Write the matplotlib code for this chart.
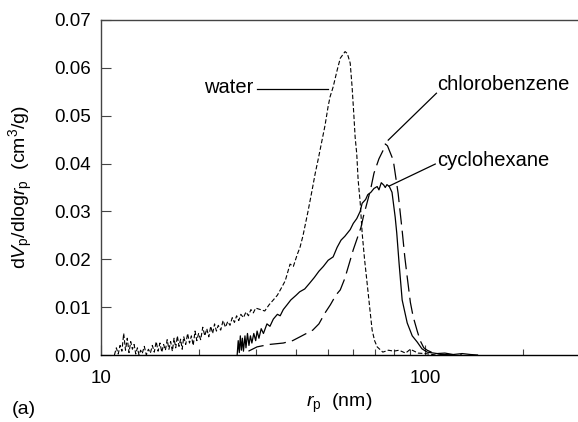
import numpy as np
import matplotlib
matplotlib.use("Agg")
import matplotlib.pyplot as plt

plt.rcParams['font.family'] = ['Liberation Sans', 'DejaVu Sans']
plt.rcParams['mathtext.fontset'] = 'custom'
plt.rcParams['mathtext.rm'] = 'Liberation Sans'
plt.rcParams['mathtext.it'] = 'Liberation Sans:italic'

# pore radius (nm) and dV/dlog r (cm3/g) for each solvent
r_water = [11.0, 11.15, 11.3, 11.45, 11.6, 11.75, 11.9, 12.05, 12.2, 12.35,
           12.5, 12.65, 12.8, 12.95, 13.1, 13.25, 13.4, 13.6, 13.8, 14.0,
           14.2, 14.4, 14.6, 14.8, 15.0, 15.2, 15.4, 15.6, 15.8, 16.0,
           16.2, 16.4, 16.6, 16.8, 17.0, 17.2, 17.4, 17.6, 17.8, 18.0,
           18.25, 18.5, 18.75, 19.0, 19.25, 19.5, 19.75, 20.0, 20.3, 20.6,
           20.9, 21.2, 21.5, 21.8, 22.1, 22.4, 22.7, 23.0, 23.4, 23.8,
           24.2, 24.6, 25.0, 25.4, 25.8, 26.2, 26.6, 27.0, 27.5, 28.0,
           28.5, 29.0, 29.5, 30.0, 31.0, 32.0, 33.0, 34.0, 35.0, 36.0,
           37.0, 38.3, 39.2, 40.3, 41.1, 42.0, 43.5, 44.8, 45.8, 46.8,
           48.1, 49.1, 50.2, 50.9, 52.0, 53.5, 54.7, 56.6, 57.5, 58.7,
           59.5, 60.2, 60.8, 61.5, 62.1, 63.0, 63.9, 65.0, 66.2, 67.4,
           68.6, 69.8, 71.1, 74.0, 77.0, 80.0, 83.0, 87.0, 90.0, 95.0,
           100.0, 108.0]
v_water = [0.0, 0.0015, 0.0002, 0.002, 0.0008, 0.0045, 0.001, 0.0035, 0.0005, 0.0028,
           0.0012, 0.0022, 0.0002, 0.0015, 0.0, 0.001, 0.0003, 0.0018, 0.0, 0.0012,
           0.0004, 0.002, 0.0006, 0.0028, 0.0008, 0.0025, 0.0006, 0.0022, 0.001, 0.0032,
           0.0012, 0.0028, 0.0008, 0.0035, 0.0015, 0.004, 0.0018, 0.0033, 0.0012, 0.0038,
           0.0022, 0.0045, 0.0025, 0.004, 0.002, 0.005, 0.003, 0.0045, 0.0032, 0.0058,
           0.004, 0.0055, 0.0038, 0.006, 0.0045, 0.0065, 0.005, 0.0062, 0.0052, 0.0072,
           0.0058, 0.007, 0.0062, 0.0078, 0.0068, 0.0082, 0.0072, 0.0085, 0.0078, 0.009,
           0.0082, 0.0095, 0.0088, 0.0098, 0.0095, 0.0092, 0.0105, 0.0115, 0.0125, 0.014,
           0.0155, 0.019, 0.0185, 0.021, 0.0225, 0.025, 0.030, 0.0345, 0.038, 0.041,
           0.045, 0.048, 0.052, 0.054, 0.056, 0.0595, 0.062, 0.0634, 0.063, 0.061,
           0.056, 0.0505, 0.0455, 0.042, 0.0366, 0.032, 0.0255, 0.020, 0.015, 0.010,
           0.0052, 0.003, 0.0017, 0.0006, 0.001, 0.0008, 0.001, 0.0004, 0.0012, 0.0004,
           0.0003, 0.0]

r_chloro = [28.5, 30.3, 33.0, 36.5, 39.0, 41.1, 43.0, 45.0, 47.0, 49.1, 51.0, 52.0, 53.0, 54.7,
            56.5, 58.7, 60.0, 63.4, 64.5, 67.8, 69.5, 72.0, 74.2, 75.3, 76.5, 79.7, 82.5, 84.9,
            86.5, 88.0, 90.0, 91.8, 94.5, 96.5, 99.0, 101.4, 106.0, 112.0, 130.0]
v_chloro = [0.0008, 0.0017, 0.0022, 0.0025, 0.003, 0.0038, 0.0045, 0.0052, 0.0065, 0.0088,
            0.0105, 0.0115, 0.0125, 0.0136, 0.016, 0.0198, 0.022, 0.0267, 0.029, 0.0345, 0.038,
            0.041, 0.0428, 0.0441, 0.0437, 0.0407, 0.0338, 0.026, 0.0205, 0.0163, 0.011, 0.008,
            0.005, 0.003, 0.0015, 0.001, 0.0004, 0.0001, 0.0]

r_cyclo = [26.3, 26.5, 26.7, 26.9, 27.1, 27.3, 27.5, 27.8, 28.0, 28.3, 28.6, 28.9, 29.2, 29.6,
           30.0, 30.3, 30.7, 31.2, 31.7, 32.5, 33.2, 34.0, 35.0, 35.7, 36.5, 37.5, 38.5, 40.0,
           41.0, 42.5, 44.0, 45.5, 47.0, 48.5, 50.2, 52.0, 53.5, 55.0, 56.5, 58.7, 60.0, 61.5,
           63.0, 63.9, 65.5, 66.5, 68.0, 69.5, 71.1, 72.0, 73.2, 74.5, 75.3, 76.2, 77.5, 79.0,
           80.8, 81.7, 83.1, 84.9, 88.0, 91.2, 94.5, 97.7, 101.4, 108.9, 115.0, 122.0, 130.0,
           138.0, 145.0]
v_cyclo = [0.0, 0.003, 0.0005, 0.004, 0.001, 0.0035, 0.0008, 0.004, 0.0015, 0.0045, 0.002,
           0.004, 0.0025, 0.0045, 0.003, 0.005, 0.0035, 0.0055, 0.0045, 0.0065, 0.006, 0.0075,
           0.0085, 0.0082, 0.0095, 0.0105, 0.0115, 0.0125, 0.0132, 0.0138, 0.015, 0.0162,
           0.0175, 0.0185, 0.0198, 0.0205, 0.0225, 0.024, 0.0248, 0.0262, 0.0275, 0.0285,
           0.030, 0.0317, 0.0325, 0.0335, 0.034, 0.0348, 0.0352, 0.0345, 0.036, 0.0355, 0.035,
           0.0356, 0.0352, 0.034, 0.0288, 0.0255, 0.019, 0.0115, 0.0067, 0.004, 0.0027, 0.0013,
           0.0006, 0.0003, 0.0004, 0.0001, 0.0003, 0.0001, 0.0]

yticks = [0.00, 0.01, 0.02, 0.03, 0.04, 0.05, 0.06, 0.07]

fig = plt.figure(figsize=(5.78, 4.22), dpi=100)
ax = fig.add_axes([101/578, 1-355/422, 1-101/578, 335/422])

ax.plot(r_water, v_water, color='black', lw=0.8, ls=(0, (4, 2)))
ax.plot(r_chloro, v_chloro, color='black', lw=0.9, ls=(0, (13, 5)))
ax.plot(r_cyclo, v_cyclo, color='black', lw=0.9)

ax.set_xscale('log')
ax.set_xlim(10, 296)
ax.set_ylim(0, 0.07)
ax.set_yticks(yticks)
ax.set_yticklabels(['%.2f' % t for t in yticks])
ax.set_xticks([10, 100])
ax.set_xticklabels(['10', '100'])
ax.xaxis.set_minor_locator(matplotlib.ticker.LogLocator(base=10, subs=np.arange(2, 10)))
ax.xaxis.set_minor_formatter(matplotlib.ticker.NullFormatter())

for s in ['top', 'left', 'bottom']:
    ax.spines[s].set_color('#444444')
    ax.spines[s].set_linewidth(1.0)
ax.spines['bottom'].set_color('black')
ax.spines['right'].set_visible(False)
ax.tick_params(which='major', direction='in', length=7, width=0.8, labelsize=13.5,
               color='#444444', right=False, top=False)
ax.tick_params(which='minor', direction='in', length=4, width=0.8, color='#444444', top=False)
ax.tick_params(axis='y', pad=7)
ax.tick_params(axis='x', pad=11)

ax.set_ylabel(r'd$\it{V}_{\rm p}$/dlog$\it{r}_{\rm p}$  (cm$^3$/g)', fontsize=14, labelpad=14)
ax.set_xlabel(r'$\it{r}_{\rm p}$  (nm)', fontsize=14, labelpad=3)

# leader lines and labels
ax.plot([30.3, 50.2], [0.0556, 0.0556], color='black', lw=0.9)
ax.text(29.5, 0.0558, 'water', fontsize=14.5, ha='right', va='center')
ax.plot([76.9, 108.3], [0.0449, 0.0547], color='black', lw=0.9)
ax.text(108.6, 0.0566, 'chlorobenzene', fontsize=14.5, ha='left', va='center')
ax.plot([77.4, 107.4], [0.0353, 0.0399], color='black', lw=0.9)
ax.text(108.6, 0.0407, 'cyclohexane', fontsize=14.5, ha='left', va='center')

fig.text(12/578, 1-410/422, '(a)', fontsize=14, ha='left', va='center')

fig.savefig('out.png', dpi=100)
